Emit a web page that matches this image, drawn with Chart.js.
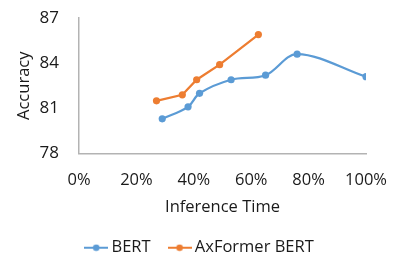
<!DOCTYPE html>
<html>
<head>
<meta charset="utf-8">
<script src="https://cdn.jsdelivr.net/npm/chart.js@4/dist/chart.umd.min.js"></script>
<style>
html,body{margin:0;padding:0;background:#fff;}
#wrap{width:415px;height:254px;}
</style>
</head>
<body>
<div id="wrap"><canvas id="c" width="415" height="254"></canvas></div>
<script>
// ---- data ----
const seriesNames = ["BERT", "AxFormer BERT"];
const bertTime = [29, 38, 42, 53, 65, 76, 100];
const bertAcc  = [80.3, 81.1, 82.0, 82.9, 83.2, 84.6, 83.1];
const axTime   = [27, 36, 41, 49, 62.5];
const axAcc    = [81.5, 81.9, 82.9, 83.9, 85.9];
const xTicks   = [0, 20, 40, 60, 80, 100];
const yTicks   = [78, 81, 84, 87];

const BLUE = "#5b9bd5", ORANGE = "#ed7d31", TEXT = "#1a1a1a", AXIS = "#b3b3b3";
const FONT = "'Open Sans', sans-serif";

function legendIcon(color){
  const cv = document.createElement('canvas');
  cv.width = 24; cv.height = 8;
  const g = cv.getContext('2d');
  g.strokeStyle = color; g.lineWidth = 2;
  g.beginPath(); g.moveTo(0,4); g.lineTo(24,4); g.stroke();
  g.fillStyle = color; g.beginPath(); g.arc(12,4,3.3,0,Math.PI*2); g.fill();
  return cv;
}
const icons = [legendIcon(BLUE), legendIcon(ORANGE)];

const toPts = (xs, ys) => xs.map((x,i)=>({x:x, y:ys[i]}));

const legendShift = {
  id: 'legendShift',
  afterLayout(chart) {
    if (chart.legend) { chart.legend.left -= 6; chart.legend.right -= 6; }
  }
};

new Chart(document.getElementById('c'), {
  type: 'line',
  plugins: [legendShift],
  data: {
    datasets: [
      {label: seriesNames[0], data: toPts(bertTime, bertAcc), borderColor: BLUE, backgroundColor: BLUE,
       borderWidth: 2.25, pointRadius: 3.6, pointBorderWidth: 0, tension: 0.35, fill: false},
      {label: seriesNames[1], data: toPts(axTime, axAcc), borderColor: ORANGE, backgroundColor: ORANGE,
       borderWidth: 2.25, pointRadius: 3.6, pointBorderWidth: 0, tension: 0, fill: false}
    ]
  },
  options: {
    responsive: false,
    animation: false,
    events: [],
    layout: {padding: {left: 0, right: 0, top: 18, bottom: -12}},
    plugins: {
      tooltip: {enabled: false},
      legend: {
        position: 'bottom',
        labels: {
          usePointStyle: true,
          pointStyleWidth: 14,
          padding: 22,
          color: TEXT,
          font: {family: FONT, size: 16.5},
          generateLabels: (chart) => chart.data.datasets.map((ds,i)=>({
            text: ds.label, pointStyle: icons[i], fillStyle: ds.borderColor,
            strokeStyle: ds.borderColor, lineWidth: 0, hidden: false, datasetIndex: i, fontColor: TEXT
          }))
        }
      }
    },
    scales: {
      x: {
        type: 'linear', min: 0, max: 100,
        afterBuildTicks: (s) => { s.ticks = xTicks.map(v=>({value:v})); },
        afterFit: (s) => { s.height = 64; },
        grid: {display: false, drawTicks: false, tickLength: 0},
        border: {display: true, color: AXIS, width: 1.5},
        ticks: {color: TEXT, font: {family: FONT, size: 16.5}, padding: 17, maxRotation: 0,
                callback: (v) => v + '%'},
        title: {display: true, text: 'Inference Time', color: TEXT,
                font: {family: FONT, size: 16.5}, padding: {top: 2, bottom: 0}}
      },
      y: {
        type: 'linear', min: 78, max: 87,
        afterBuildTicks: (s) => { s.ticks = yTicks.map(v=>({value:v})); },
        afterFit: (s) => { s.width = 79; s.paddingTop = 0; s.paddingBottom = 0; },
        grid: {display: false, drawTicks: false, tickLength: 0},
        border: {display: true, color: AXIS, width: 1.5},
        ticks: {color: TEXT, font: {family: FONT, size: 17}, padding: 20},
        title: {display: true, text: 'Accuracy', color: TEXT,
                font: {family: FONT, size: 16.5}, padding: {top: 14, bottom: 0}}
      },
      yPad: {
        type: 'linear', position: 'right', min: 0, max: 1,
        afterFit: (s) => { s.width = 49; s.paddingTop = 0; s.paddingBottom = 0; },
        grid: {display: false, drawTicks: false},
        border: {display: false},
        ticks: {display: false}
      }
    }
  }
});
</script>
</body>
</html>
